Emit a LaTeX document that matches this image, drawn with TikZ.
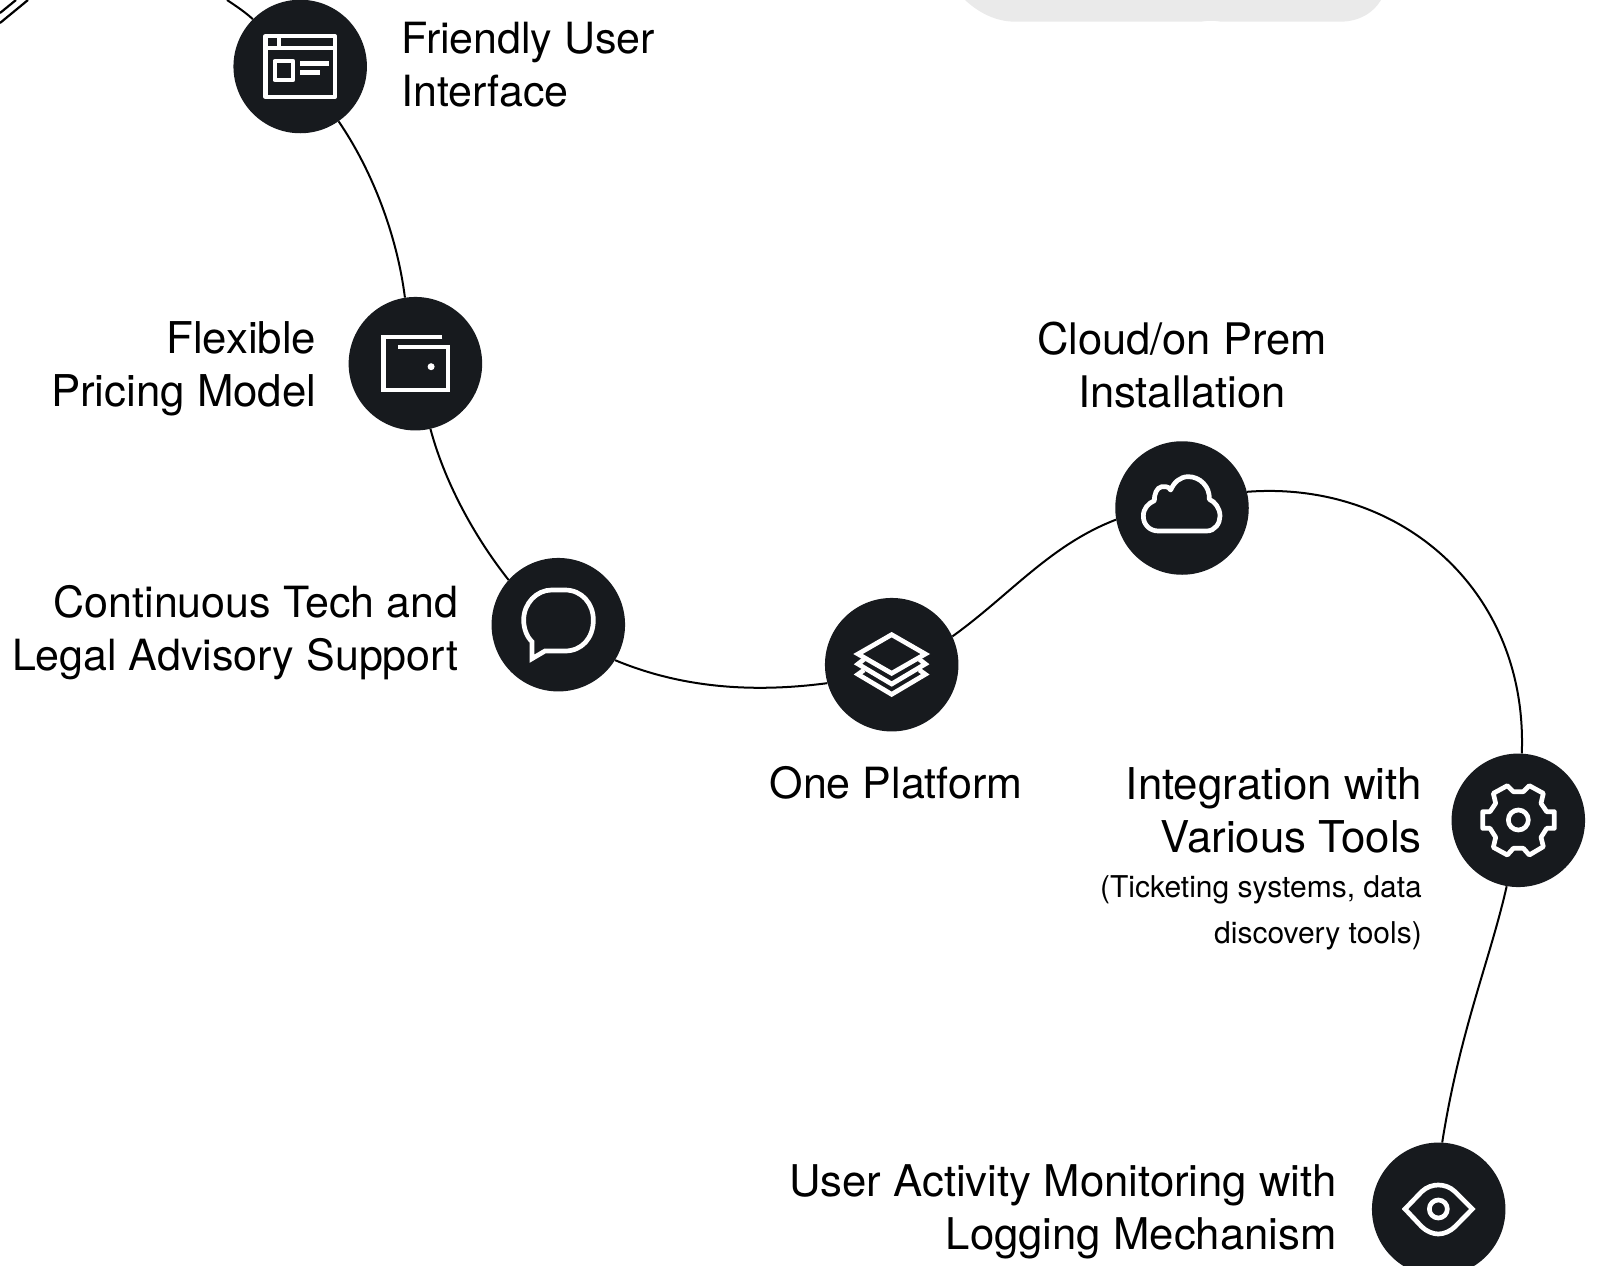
\documentclass[tikz,border=0pt]{standalone}
\usepackage{fontspec}
\setmainfont{TeX Gyre Heros}
\definecolor{ink}{HTML}{171A1E}
\definecolor{blob}{HTML}{EAEAEA}
\tikzset{
  dot/.style={circle,fill=ink,draw=none,minimum size=133.5pt,inner sep=0pt},
  link/.style={draw=black,line width=2pt},
  icon/.style={draw=white,line width=4.7pt,line join=round},
  lab/.style={inner sep=0pt,font=\fontsize{#1pt}{52.7pt}\selectfont},
  sub/.style={inner sep=0pt,font=\fontsize{30pt}{46pt}\selectfont},
}
\begin{document}
\begin{tikzpicture}[x=1pt,y=-1pt]
\useasboundingbox (0,0) rectangle (1599,1266);
\path[fill=blob] (965,0) .. controls (979,13) and (996,21.7) .. (1015.5,21.7) -- (1201,21.7) .. controls (1207,20.5) and (1215,20.5) .. (1221,21.7) -- (1340,21.7) .. controls (1360,21.7) and (1374,12) .. (1381,0) -- cycle;
\draw[draw=black,line width=2.2pt] (0,13) -- (16,0) (0,23) -- (28,0);
\node[dot] (ui) at (300.2,66.5) {};
\node[dot] (wallet) at (415.4,363.7) {};
\node[dot] (chat) at (558.3,624.7) {};
\node[dot] (layers) at (891.7,664.7) {};
\node[dot] (cloud) at (1182,508) {};
\node[dot] (gear) at (1518.3,820.3) {};
\node[dot] (eye) at (1438.7,1209.3) {};
\coordinate (topin) at (227,0);
\draw[link] (topin) .. controls (236,6) and (245,12) .. (ui.135);
\draw[link] (ui.-55) .. controls (372,170) and (397,235) .. (wallet.99.6);
\draw[link] (wallet.-77) .. controls (444,480) and (473,535) .. (chat.138.8);
\draw[link] (chat.-32.7) .. controls (670,683) and (738,695) .. (layers.196);
\draw[link] (layers.25) .. controls (1010,595) and (1050,545) .. (cloud.190);
\draw[link] (cloud.14) .. controls (1400,480) and (1528,590) .. (gear.87);
\draw[link] (gear.-100) .. controls (1490,960) and (1460,1030) .. (eye.87.5);
% UI icon
\begin{scope}[shift={(-2.8,0)},icon/.append style={line width=4.2pt}]
\draw[icon] (268.3,36) rectangle (337.7,97);
\draw[icon] (268.3,48) -- (337.7,48) (281.5,36) -- (281.5,48);
\draw[icon] (277.5,61) rectangle (296,80);
\draw[draw=white,line width=5pt] (303,63) -- (332,63) (303,72.7) -- (323,72.7);
\end{scope}
% wallet icon
\begin{scope}[shift={(-3.6,0)},icon/.append style={line width=4.2pt}]
\draw[icon,line join=miter] (446,337) -- (387,337) -- (387,390) -- (451.7,390) -- (451.7,346.7) -- (402,346.7);
\fill[white] (434.7,366.7) circle (3.5);
\end{scope}
% chat and layers
\begin{scope}[shift={(480,540)},scale=1/3]
\draw[icon,line join=miter] (156,356) -- (156,305) .. controls (140,290) and (131,265) .. (131,240) .. controls (131,190) and (170,150) .. (215,150) -- (255,150) .. controls (305,150) and (340,190) .. (340,240) .. controls (340,295) and (305,333) .. (255,333) -- (195,333) -- cycle;
\draw[icon,line join=miter] (1235,284) -- (1336,342) -- (1235,400) -- (1134,342) -- cycle;
\draw[icon,line join=miter] (1152,358) -- (1134,372) -- (1235,432) -- (1336,372) -- (1318,358);
\draw[icon,line join=miter] (1152,390) -- (1134,403) -- (1235,463) -- (1336,403) -- (1318,390);
\end{scope}
% cloud
\begin{scope}[shift={(1100,430)},scale=1/3]
\draw[icon] (175,303) -- (320,303) .. controls (345,303) and (360,280) .. (360,258) .. controls (360,235) and (345,215) .. (328,208) .. controls (330,170) and (300,140) .. (265,140) .. controls (240,140) and (222,157) .. (212,180) .. controls (205,168) and (195,170) .. (185,170) .. controls (170,172) and (162,195) .. (163,212) .. controls (145,220) and (130,235) .. (130,258) .. controls (130,285) and (150,303) .. (175,303) -- cycle;
\end{scope}
% gear
\begin{scope}[shift={(1430,740)},scale=1/3]
\draw[icon] (298,137) -- (340,160) -- (333,190) -- (350,215) -- (373,215) -- (373,265) -- (350,265) -- (333,292) -- (340,320) -- (298,345) -- (280,325) -- (250,325) -- (232,345) -- (190,322) -- (197,292) -- (180,265) -- (158,265) -- (158,215) -- (180,215) -- (197,190) -- (190,160) -- (232,137) -- (250,155) -- (280,155) -- cycle;
\draw[icon] (265,240) circle (30pt);
\end{scope}
% eye
\begin{scope}[shift={(1350,1130)},scale=1/3]
\draw[icon,line join=miter] (165,237) -- (215,185) .. controls (230,170) and (250,165) .. (265,165) .. controls (280,165) and (300,170) .. (315,185) -- (367,237) -- (315,290) .. controls (300,305) and (280,312) .. (265,312) .. controls (250,312) and (230,305) .. (215,290) -- cycle;
\draw[icon] (265,237) circle (27pt);
\end{scope}
% labels
\node[lab=43,align=left,anchor=base west] (tui) at (401,106) {Friendly User\\Interface};
\node[lab=43.8,align=right,anchor=base east] (twallet) at (316.5,406) {Flexible\\Pricing Model};
\node[lab=43,align=right,anchor=base east] (tchat) at (458.5,670) {Continuous Tech and\\Legal Advisory Support};
\node[lab=43,anchor=base] (tlayers) at (896,798) {One Platform};
\node[lab=43.5,align=center,anchor=base] (tcloud) at (1181.9,407) {Cloud/on Prem\\Installation};
\node[lab=43.8,align=right,anchor=base east] (tgear) at (1422,852.5) {Integration with\\Various Tools};
\node[sub,align=right,anchor=base east] (tsub) at (1422,943) {(Ticketing systems, data\\discovery tools)};
\node[lab=43.7,align=right,anchor=base east] (teye) at (1337,1249) {User Activity Monitoring with\\Logging Mechanism};
\end{tikzpicture}
\end{document}
